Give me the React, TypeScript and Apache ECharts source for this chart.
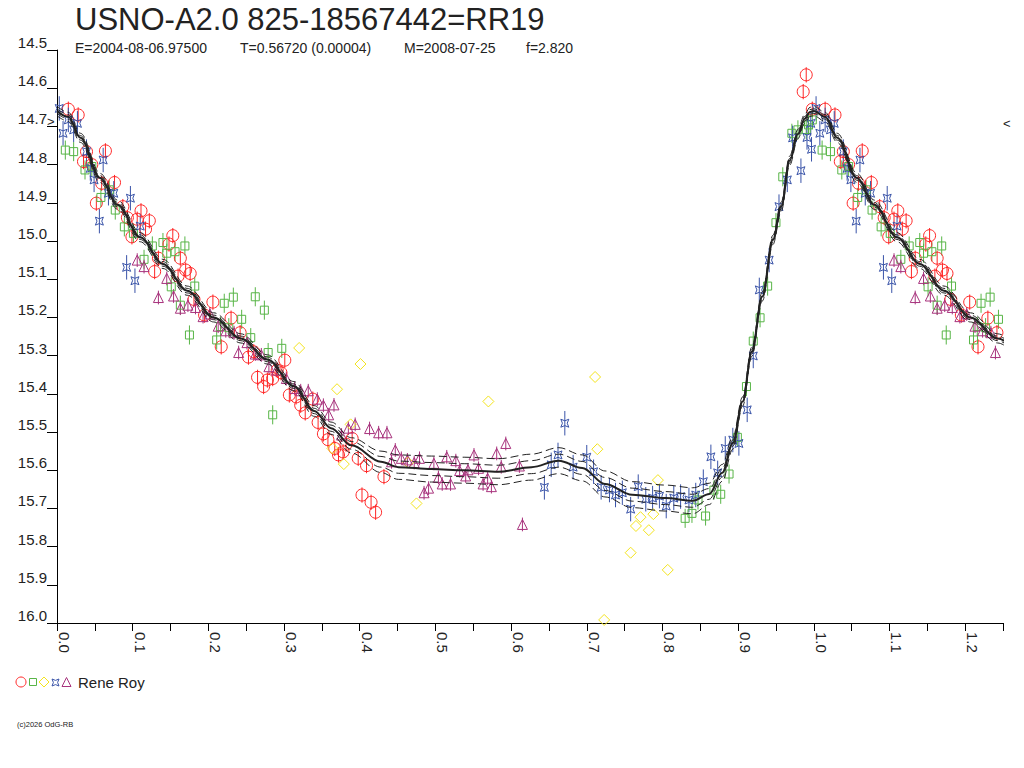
import React, { useEffect, useRef } from "react";
import * as echarts from "echarts";

// ---------- texts ----------
const TITLE = "USNO-A2.0 825-18567442=RR19";
const SUBTITLE_PARTS = ["E=2004-08-06.97500", "T=0.56720 (0.00004)", "M=2008-07-25", "f=2.820"];
const OBSERVER = "Rene Roy";
const COPYRIGHT = "(c)2026 OdG-RB";

// ---------- axes ----------
const PHASE_MIN = 0;
const PHASE_MAX = 1.25;
const PHASE_STEP = 0.05;
const MAG_MIN = 14.5;
const MAG_MAX = 16.0;
const MAG_STEP = 0.1;
const REPEAT_UNTIL = 0.25; // phases below this are repeated after phase 1.0

// ---------- observations [phase, magnitude] ----------
const RED: [number, number][] = [
  [0.015, 14.655], [0.028, 14.67], [0.035, 14.792], [0.039, 14.766], [0.046, 14.8], [0.052, 14.901],
  [0.059, 14.849], [0.064, 14.764], [0.076, 14.847], [0.087, 14.91], [0.093, 14.939], [0.099, 14.989],
  [0.106, 14.943], [0.111, 14.921], [0.117, 14.969], [0.122, 14.947], [0.129, 15.08], [0.134, 15.045],
  [0.148, 15.008], [0.153, 14.986], [0.16, 15.092], [0.163, 15.045], [0.17, 15.076], [0.176, 15.085],
  [0.181, 15.153], [0.195, 15.194], [0.206, 15.16], [0.217, 15.277], [0.23, 15.202], [0.242, 15.24],
  [0.253, 15.304], [0.26, 15.29], [0.265, 15.357], [0.273, 15.381], [0.278, 15.364], [0.285, 15.36],
  [0.291, 15.338], [0.296, 15.345], [0.301, 15.312], [0.307, 15.403], [0.316, 15.408], [0.322, 15.43],
  [0.328, 15.45], [0.338, 15.414], [0.345, 15.475], [0.352, 15.505], [0.358, 15.52], [0.367, 15.543],
  [0.372, 15.56], [0.378, 15.552], [0.382, 15.532], [0.39, 15.517], [0.398, 15.569], [0.403, 15.665],
  [0.409, 15.588], [0.415, 15.684], [0.421, 15.71], [0.432, 15.617], [0.986, 14.609], [0.99, 14.565],
  [0.998, 14.655],
];
const GREEN: [number, number][] = [
  [0.011, 14.762], [0.022, 14.766], [0.037, 14.814], [0.046, 14.805], [0.058, 14.886], [0.069, 14.866],
  [0.077, 14.919], [0.089, 14.963], [0.101, 14.98], [0.115, 15.048], [0.126, 15.013], [0.14, 15.004],
  [0.145, 15.032], [0.151, 15.12], [0.156, 15.028], [0.163, 15.168], [0.169, 15.013], [0.175, 15.246],
  [0.182, 15.118], [0.211, 15.259], [0.216, 15.224], [0.221, 15.163], [0.227, 15.227], [0.233, 15.147],
  [0.244, 15.205], [0.256, 15.253], [0.262, 15.146], [0.274, 15.181], [0.279, 15.292], [0.285, 15.455],
  [0.297, 15.281], [0.83, 15.726], [0.839, 15.713], [0.847, 15.678], [0.857, 15.72], [0.868, 15.652],
  [0.877, 15.663], [0.888, 15.61], [0.899, 15.514], [0.911, 15.381], [0.92, 15.262], [0.929, 15.201],
  [0.939, 15.118], [0.95, 14.952], [0.959, 14.832], [0.971, 14.718], [0.979, 14.709], [0.99, 14.708],
  [0.993, 14.696], [0.998, 14.683],
];
const YELLOW: [number, number][] = [
  [0.32, 15.28], [0.364, 15.543], [0.37, 15.388], [0.379, 15.584], [0.388, 15.48], [0.401, 15.322],
  [0.464, 15.58], [0.475, 15.687], [0.57, 15.42], [0.711, 15.356], [0.714, 15.545], [0.723, 15.992],
  [0.758, 15.816], [0.765, 15.746], [0.771, 15.723], [0.782, 15.757], [0.788, 15.715], [0.794, 15.626],
  [0.807, 15.861],
];
const BLUE: [number, number][] = [
  [0.003, 14.653], [0.008, 14.718], [0.015, 14.683], [0.022, 14.709], [0.027, 14.692], [0.039, 14.766],
  [0.044, 14.81], [0.049, 14.84], [0.056, 14.948], [0.061, 14.788], [0.068, 14.875], [0.075, 14.875],
  [0.092, 15.069], [0.097, 14.888], [0.103, 15.104], [0.11, 14.961], [0.644, 15.645], [0.653, 15.586],
  [0.662, 15.56], [0.671, 15.477], [0.682, 15.592], [0.7, 15.566], [0.709, 15.604], [0.719, 15.645],
  [0.73, 15.652], [0.738, 15.665], [0.747, 15.659], [0.758, 15.702], [0.768, 15.643], [0.778, 15.676],
  [0.787, 15.673], [0.796, 15.668], [0.805, 15.694], [0.815, 15.673], [0.824, 15.669], [0.835, 15.678],
  [0.844, 15.665], [0.854, 15.63], [0.864, 15.565], [0.873, 15.607], [0.883, 15.543], [0.893, 15.521],
  [0.901, 15.53], [0.912, 15.442], [0.92, 15.301], [0.928, 15.128], [0.941, 15.05], [0.954, 14.91],
  [0.965, 14.84], [0.972, 14.73], [0.983, 14.816], [0.991, 14.729], [0.996, 14.692], [0.997, 14.76],
];
const PURPLE: [number, number][] = [
  [0.106, 15.05], [0.115, 15.067], [0.134, 15.148], [0.145, 15.098], [0.154, 15.144], [0.163, 15.176],
  [0.173, 15.168], [0.183, 15.174], [0.193, 15.198], [0.202, 15.191], [0.213, 15.223], [0.223, 15.235],
  [0.234, 15.24], [0.24, 15.292], [0.251, 15.266], [0.262, 15.296], [0.27, 15.298], [0.28, 15.329],
  [0.29, 15.338], [0.303, 15.36], [0.314, 15.386], [0.322, 15.392], [0.332, 15.392], [0.344, 15.414],
  [0.352, 15.43], [0.359, 15.455], [0.366, 15.429], [0.376, 15.508], [0.385, 15.49], [0.394, 15.48],
  [0.413, 15.491], [0.425, 15.502], [0.436, 15.502], [0.442, 15.578], [0.447, 15.547], [0.455, 15.569],
  [0.463, 15.573], [0.472, 15.58], [0.479, 15.569], [0.485, 15.659], [0.491, 15.647], [0.498, 15.582],
  [0.504, 15.619], [0.509, 15.636], [0.515, 15.565], [0.52, 15.636], [0.527, 15.575], [0.532, 15.601],
  [0.54, 15.615], [0.543, 15.599], [0.551, 15.56], [0.557, 15.595], [0.563, 15.636], [0.569, 15.621],
  [0.574, 15.643], [0.581, 15.556], [0.587, 15.591], [0.593, 15.53], [0.611, 15.589], [0.615, 15.742],
];

// half-length of the error bars (mag)
const ERR_RED = 0.02;
const ERR_GREEN = 0.025;
const ERR_BLUE = 0.032;
const ERR_PURPLE = 0.018;

// ---------- fitted light curve ----------
const FIT_PHASE = [
  0.0, 0.015, 0.031, 0.057, 0.08, 0.11, 0.14, 0.172, 0.207, 0.243, 0.278, 0.313, 0.34, 0.362, 0.389,
  0.428, 0.451, 0.495, 0.538, 0.583, 0.627, 0.663, 0.694, 0.724, 0.76, 0.804, 0.84, 0.862, 0.879,
  0.893, 0.906, 0.918, 0.932, 0.946, 0.957, 0.968, 0.979, 0.988, 0.995,
];
const FIT_MAG = [
  14.66, 14.675, 14.73, 14.835, 14.905, 14.99, 15.06, 15.13, 15.2, 15.255, 15.31, 15.38, 15.445,
  15.49, 15.535, 15.578, 15.592, 15.597, 15.6, 15.604, 15.592, 15.575, 15.594, 15.636, 15.664,
  15.673, 15.68, 15.662, 15.607, 15.529, 15.42, 15.29, 15.145, 14.997, 14.91, 14.79, 14.72, 14.68,
  14.662,
];
const FIT_SIGMA = [
  0.006, 0.006, 0.006, 0.006, 0.006, 0.006, 0.006, 0.006, 0.006, 0.006, 0.006, 0.006, 0.007, 0.008,
  0.01, 0.014, 0.016, 0.017, 0.017, 0.017, 0.017, 0.017, 0.017, 0.017, 0.017, 0.017, 0.017, 0.014,
  0.011, 0.008, 0.006, 0.006, 0.006, 0.006, 0.006, 0.006, 0.006, 0.006, 0.006,
];

// ---------- colours ----------
const C_RED = "#ff2626";
const C_GREEN = "#58b547";
const C_YELLOW = "#f4e41c";
const C_BLUE = "#3953a8";
const C_PURPLE = "#a8337d";
const C_INK = "#222222";
const FONT = 'Arial, "Liberation Sans", sans-serif';
const ASTROID = "path://M0,0L4,1.6L8,0L6.4,4L8,8L4,6.4L0,8L1.6,4Z";

// phase diagram: the first part of the cycle is shown again after phase 1
function fold(points: [number, number][]): [number, number][] {
  return points.concat(points.filter((p) => p[0] <= REPEAT_UNTIL).map((p) => [p[0] + 1, p[1]] as [number, number]));
}

function fitLine(k: number): [number, number][] {
  const base: [number, number][] = FIT_PHASE.map((p, i) => [p, FIT_MAG[i] + k * FIT_SIGMA[i]]);
  const rep: [number, number][] = FIT_PHASE.filter((p) => p <= 0.28).map((p, i) => [p + 1, FIT_MAG[i] + k * FIT_SIGMA[i]]);
  return base.concat(rep);
}

function scatter(data: [number, number][], symbol: string, size: number, color: string) {
  return {
    type: "scatter",
    data: fold(data),
    symbol,
    symbolSize: size,
    itemStyle: { color: "rgba(0,0,0,0)", borderColor: color, borderWidth: 1, opacity: 1 },
    silent: true,
    z: 3,
  };
}

function errorBars(data: [number, number][], err: number, color: string) {
  return {
    type: "custom",
    data: fold(data),
    encode: { x: 0, y: 1 },
    silent: true,
    z: 3,
    renderItem: (_params: any, api: any) => {
      const x = api.value(0);
      const y = api.value(1);
      const a = api.coord([x, y - err]);
      const b = api.coord([x, y + err]);
      return {
        type: "line",
        shape: { x1: a[0], y1: a[1], x2: b[0], y2: b[1] },
        style: { stroke: color, lineWidth: 1 },
      };
    },
  };
}

function fitSeries(k: number) {
  return {
    type: "line",
    data: fitLine(k),
    symbol: "none",
    showSymbol: false,
    smooth: 0.35,
    smoothMonotone: "x",
    silent: true,
    z: 5,
    lineStyle: k === 0 ? { color: C_INK, width: 2 } : { color: C_INK, width: 1, type: [8, 4] },
  };
}

function txt(text: string, x: number, y: number, size: number, extra: any = {}) {
  return {
    type: "text",
    x,
    y,
    silent: true,
    style: {
      text,
      fill: C_INK,
      fontSize: size,
      fontFamily: FONT,
      align: "left",
      verticalAlign: "middle",
      textAlign: "left",
      textVerticalAlign: "middle",
      ...extra,
    },
  };
}

const SUB_X = [75, 240, 404, 526];

export default function App() {
  const ref = useRef<HTMLDivElement>(null);
  useEffect(() => {
    if (!ref.current) return;
    const chart = echarts.init(ref.current, undefined, { renderer: "svg" });
    const option: any = {
      animation: false,
      backgroundColor: "#ffffff",
      grid: { left: 57, top: 50, right: 21, bottom: 145, containLabel: false },
      xAxis: {
        type: "value",
        min: PHASE_MIN,
        max: PHASE_MAX,
        interval: PHASE_STEP,
        axisLine: { show: true, onZero: false, lineStyle: { color: "#000", width: 1 } },
        axisTick: { show: true, length: 8, lineStyle: { color: "#000", width: 1 } },
        splitLine: { show: false },
        axisLabel: {
          rotate: -90,
          margin: 9,
          fontSize: 15,
          lineHeight: 15,
          fontFamily: FONT,
          color: C_INK,
          verticalAlign: "bottom",
          showMinLabel: true,
          showMaxLabel: true,
          formatter: (v: number) => (Math.round(v * 100) % 10 === 0 ? v.toFixed(1) : ""),
        },
      },
      yAxis: {
        type: "value",
        inverse: true,
        min: MAG_MIN,
        max: MAG_MAX,
        interval: MAG_STEP,
        axisLine: { show: true, onZero: false, lineStyle: { color: "#000", width: 1 } },
        axisTick: { show: true, length: 10, lineStyle: { color: "#000", width: 1 } },
        splitLine: { show: false },
        axisLabel: {
          margin: 10,
          fontSize: 15,
          lineHeight: 15,
          fontFamily: FONT,
          color: C_INK,
          verticalAlign: "bottom",
          showMinLabel: true,
          showMaxLabel: true,
          formatter: (v: number) => v.toFixed(1),
        },
      },
      series: [
        errorBars(RED, ERR_RED, C_RED),
        errorBars(GREEN, ERR_GREEN, C_GREEN),
        errorBars(BLUE, ERR_BLUE, C_BLUE),
        errorBars(PURPLE, ERR_PURPLE, C_PURPLE),
        scatter(RED, "circle", 12, C_RED),
        scatter(GREEN, "rect", 8, C_GREEN),
        scatter(YELLOW, "diamond", 11, C_YELLOW),
        scatter(BLUE, ASTROID, 8, C_BLUE),
        scatter(PURPLE, "triangle", 10, C_PURPLE),
        fitSeries(-2),
        fitSeries(-1),
        fitSeries(1),
        fitSeries(2),
        fitSeries(0),
      ],
      graphic: [
        txt(TITLE, 75, 19, 31),
        ...SUBTITLE_PARTS.map((s, i) => txt(s, SUB_X[i], 48, 14)),
        txt(">", 47, 121, 13),
        txt("<", 1003, 123, 13),
        {
          type: "circle",
          silent: true,
          shape: { cx: 21, cy: 682, r: 5 },
          style: { fill: "none", stroke: C_RED, lineWidth: 1 },
        },
        {
          type: "rect",
          silent: true,
          shape: { x: 29.5, y: 678.5, width: 7, height: 7 },
          style: { fill: "none", stroke: C_GREEN, lineWidth: 1 },
        },
        {
          type: "polygon",
          silent: true,
          shape: { points: [[44, 677], [49, 682], [44, 687], [39, 682]] },
          style: { fill: "none", stroke: C_YELLOW, lineWidth: 1 },
        },
        {
          type: "polygon",
          silent: true,
          shape: {
            points: [[52, 679], [55.5, 680.4], [59, 679], [57.6, 682.5], [59, 686], [55.5, 684.6], [52, 686], [53.4, 682.5]],
          },
          style: { fill: "none", stroke: C_BLUE, lineWidth: 1 },
        },
        {
          type: "polygon",
          silent: true,
          shape: { points: [[66.5, 677.5], [71, 686.5], [62, 686.5]] },
          style: { fill: "none", stroke: C_PURPLE, lineWidth: 1 },
        },
        txt(OBSERVER, 78, 682, 15),
        txt(COPYRIGHT, 17, 724, 7.5),
      ],
    };
    chart.setOption(option);
    return () => chart.dispose();
  }, []);
  return (
    <div
      ref={ref}
      style={{ position: "absolute", left: 0, top: 0, width: 1024, height: 768, background: "#fff" }}
    />
  );
}
